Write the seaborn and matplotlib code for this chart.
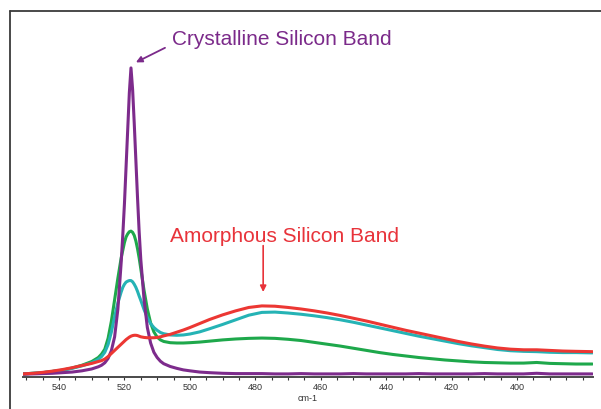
import matplotlib
matplotlib.use("Agg")
import matplotlib.pyplot as plt
from matplotlib.lines import Line2D
from matplotlib.ticker import MultipleLocator
import pandas as pd
import seaborn as sns

# Raman shift (cm-1), shared by all spectra
wavenumber = [551, 548, 545, 542, 539, 536, 533, 530, 528, 527, 526, 525, 524, 523, 522, 521,
              520.5, 520, 519.5, 519, 518.5, 518, 517.5, 517, 516.5, 516, 515.5, 515,
              514, 513, 512, 511, 510, 509, 508, 506, 504, 502, 500,
              497, 494, 490, 486, 482, 478, 474, 470, 466, 462, 458, 454, 450, 446, 442,
              438, 434, 430, 426, 422, 418, 414, 410, 406, 402, 398, 394, 390, 386, 382, 377]

crystalline = [0.9, 1.0, 1.1, 1.2, 1.4, 1.6, 2.0, 2.6, 3.3, 3.8, 4.6, 6.0, 8.5, 13, 22, 37,
               46, 56, 68, 80, 92, 100, 93, 82, 70, 58, 47, 38,
               25, 16, 11, 8.0, 6.3, 5.1, 4.3, 3.4, 2.8, 2.3, 2.0,
               1.6, 1.4, 1.2, 1.1, 1.1, 1.1, 1.0, 1.0, 1.1, 1.0, 1.0, 1.0, 1.1, 1.0, 1.0,
               1.0, 1.0, 1.1, 1.0, 1.0, 1.0, 1.0, 1.1, 1.0, 1.0, 1.0, 1.2, 1.0, 1.0, 1.0, 1.0]

mixed_high = [1.0, 1.2, 1.4, 1.8, 2.2, 2.9, 3.8, 5.0, 6.3, 7.4, 9.0, 12.5, 18, 25, 32, 38.5,
              41, 43.5, 45.3, 46.3, 47, 47.2, 46.8, 45.8, 44, 41.5, 38.5, 35,
              28, 22, 17.5, 14.6, 12.9, 12.0, 11.5, 11.1, 11.0, 11.0, 11.1,
              11.3, 11.6, 12.0, 12.3, 12.5, 12.6, 12.5, 12.2, 11.8, 11.2, 10.6, 10.0, 9.3, 8.6, 7.9,
              7.3, 6.8, 6.3, 5.9, 5.5, 5.2, 4.9, 4.7, 4.6, 4.5, 4.5, 4.7, 4.4, 4.3, 4.2, 4.2]

mixed_low = [1.0, 1.2, 1.4, 1.8, 2.2, 2.8, 3.6, 4.6, 5.7, 6.6, 8.0, 10.5, 14.5, 19.5, 24, 27.5,
             29, 30, 30.7, 31, 31.2, 31.2, 30.8, 30, 29, 27.7, 26.2, 24.8,
             21.8, 19.2, 17.3, 16, 15.1, 14.4, 14.0, 13.6, 13.5, 13.6, 13.9,
             14.6, 15.6, 17.0, 18.5, 20.0, 20.9, 21.0, 20.7, 20.3, 19.8, 19.2, 18.5, 17.7, 16.8, 15.9,
             15.0, 14.1, 13.2, 12.4, 11.6, 10.8, 10.1, 9.5, 8.9, 8.5, 8.3, 8.2, 8.0, 7.9, 7.9, 7.8]

amorphous = [1.0, 1.2, 1.5, 1.9, 2.4, 3.0, 3.7, 4.4, 5.0, 5.3, 5.8, 6.6, 7.6, 8.6, 9.6, 10.6,
             11.1, 11.6, 12.1, 12.5, 12.9, 13.2, 13.4, 13.5, 13.5, 13.4, 13.2, 13.0,
             12.8, 12.7, 12.7, 12.7, 12.8, 13.0, 13.3, 13.8, 14.5, 15.2, 16.0,
             17.3, 18.6, 20.1, 21.4, 22.5, 23.0, 22.9, 22.5, 22.0, 21.4, 20.7, 19.9, 19.0, 18.1, 17.1,
             16.1, 15.1, 14.2, 13.3, 12.4, 11.5, 10.7, 10.0, 9.4, 9.0, 8.8, 8.8, 8.6, 8.4, 8.3, 8.2]

series_names = ["mixed_high", "mixed_low", "crystalline", "amorphous"]
series_values = [mixed_high, mixed_low, crystalline, amorphous]
colors = {"mixed_high": "#1EA84B", "mixed_low": "#25B3B5",
          "crystalline": "#7D2B8C", "amorphous": "#EC3733"}

x_ticks = [540, 520, 500, 480, 460, 440, 420, 400]

df = pd.concat(
    [pd.DataFrame({"wavenumber": wavenumber, "intensity": vals, "sample": name})
     for name, vals in zip(series_names, series_values)],
    ignore_index=True)

sns.set_theme(style="white")
plt.rcParams["font.family"] = ["Liberation Sans", "DejaVu Sans"]

W, H = 601, 409
fig = plt.figure(figsize=(W / 100, H / 100), dpi=100)
ax = fig.add_axes([23 / W, 32 / H, 570 / W, 357 / H])

sns.lineplot(data=df, x="wavenumber", y="intensity", hue="sample",
             hue_order=series_names, palette=colors, estimator=None,
             sort=False, linewidth=2.2, legend=False, ax=ax)

ax.set_xlim(551, 376.8)
ax.set_ylim(0, 115.5)
ax.set_xticks(x_ticks)
ax.set_xticklabels([str(t) for t in x_ticks])
ax.xaxis.set_minor_locator(MultipleLocator(5))
ax.set_yticks([])
ax.set_ylabel("")
ax.set_xlabel("cm-1", fontsize=6.5, color="#333333", labelpad=2)

for side in ["top", "right", "left"]:
    ax.spines[side].set_visible(False)
ax.spines["bottom"].set_color("#4a4a4a")
ax.spines["bottom"].set_linewidth(1.4)
ax.tick_params(axis="x", which="both", direction="out", length=2.5, width=0.8,
               color="#333333", bottom=True)
ax.tick_params(axis="x", which="major", labelsize=6.5, labelcolor="#333333", pad=1.5)
ax.patch.set_alpha(0)

# band annotations
purple_txt = "#7B2A8A"
red_txt = "#E8333A"
ax.text(505.5, 109.1, "Crystalline Silicon Band", color=purple_txt, fontsize=15,
        ha="left", va="center")
ax.annotate("", xy=(516.5, 101.8), xytext=(507.6, 106.5),
            arrowprops=dict(arrowstyle="-|>", color=purple_txt, lw=1.3,
                            mutation_scale=9, shrinkA=0, shrinkB=0))
ax.text(471.2, 45.6, "Amorphous Silicon Band", color=red_txt, fontsize=15,
        ha="center", va="center")
ax.annotate("", xy=(477.6, 27.5), xytext=(477.6, 42.5),
            arrowprops=dict(arrowstyle="-|>", color=red_txt, lw=1.2,
                            mutation_scale=9, shrinkA=0, shrinkB=0))

# panel frame (left and top edges)
fx = 10.5 / W
fy = 1 - 11 / H
fig.add_artist(Line2D([fx, fx], [0, fy], transform=fig.transFigure,
                      color="#3a3a3a", lw=1.3))
fig.add_artist(Line2D([fx, 1], [fy, fy], transform=fig.transFigure,
                      color="#3a3a3a", lw=1.3))

fig.savefig("out.png", dpi=100)
